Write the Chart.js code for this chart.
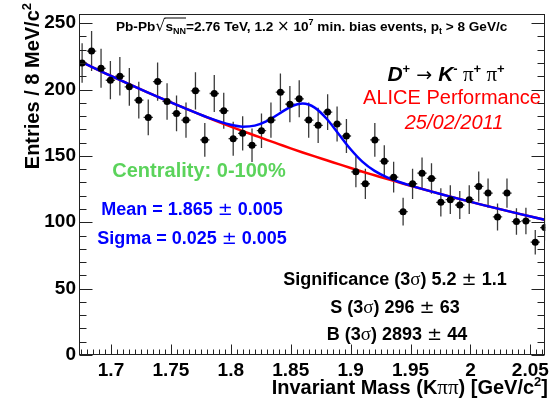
<!DOCTYPE html>
<html>
<head>
<meta charset="utf-8">
<script src="https://cdn.jsdelivr.net/npm/chart.js@4.4.1/dist/chart.umd.min.js"></script>
<style>
  html, body { margin: 0; padding: 0; background: #fff; }
  #wrap { width: 553px; height: 406px; }
</style>
</head>
<body>
<div id="wrap"><canvas id="massChart" width="553" height="406"></canvas></div>
<script>
// bin centres, GeV/c^2
var massBins = [1.6759, 1.6838, 1.6917, 1.6995, 1.7074, 1.7153, 1.7232, 1.7311, 1.7389, 1.7468,
                1.7547, 1.7626, 1.7705, 1.7783, 1.7862, 1.7941, 1.8020, 1.8099, 1.8177, 1.8256,
                1.8335, 1.8414, 1.8493, 1.8571, 1.8650, 1.8729, 1.8808, 1.8887, 1.8965, 1.9044,
                1.9123, 1.9202, 1.9281, 1.9359, 1.9438, 1.9517, 1.9596, 1.9675, 1.9753, 1.9832,
                1.9911, 1.9990, 2.0069, 2.0147, 2.0226, 2.0305, 2.0384, 2.0463, 2.0541, 2.0620];
var entries = [220, 229, 216, 207, 210, 202, 192, 179, 206, 191,
               182, 177, 199, 162, 197, 184, 163, 167, 158, 169,
               177, 198, 189, 193, 177, 173, 183, 174, 165, 138,
               129, 162, 146, 134, 108, 129, 137, 133, 115, 117,
               113, 117, 127, 122, 104, 122, 100.5, 101, 85, 96];
var entryErrors = [14.8, 15.1, 14.7, 14.4, 14.5, 14.2, 13.9, 13.4, 14.4, 13.8,
                   13.5, 13.3, 14.1, 12.7, 14.0, 13.6, 12.8, 12.9, 12.6, 13.0,
                   13.3, 14.1, 13.7, 13.9, 13.3, 13.2, 13.5, 13.2, 12.8, 11.7,
                   11.4, 12.7, 12.1, 11.6, 10.4, 11.4, 11.7, 11.5, 10.7, 10.8,
                   10.6, 10.8, 11.3, 11.0, 10.2, 11.0, 10.0, 10.0, 9.2, 9.8];
var binHalfWidth = 0.0039;

// fit curves (signal+background in blue, background in red)
var fitMass = [1.672, 1.70, 1.73, 1.76, 1.78, 1.80, 1.81, 1.82, 1.83, 1.84, 1.85, 1.86, 1.87,
               1.88, 1.89, 1.90, 1.91, 1.92, 1.93, 1.94, 1.95, 1.98, 2.01, 2.04, 2.062];
var fitTotal = [222.3, 210.2, 198.0, 186.5, 179.2, 173.4, 172.0, 172.8, 176.2, 181.6, 187.0, 189.4, 186.4,
                178.0, 166.5, 155.0, 145.5, 138.7, 134.0, 130.5, 127.6, 120.1, 113.1, 106.5, 101.9];
var fitBackground = [222.3, 210.2, 198.0, 186.5, 179.1, 172.1, 168.7, 165.4, 162.1, 158.9, 155.7, 152.6, 149.6,
                     146.7, 143.8, 140.9, 138.1, 135.4, 132.7, 130.1, 127.5, 120.1, 113.1, 106.5, 101.9];

var xTicks = [1.7, 1.75, 1.8, 1.85, 1.9, 1.95, 2, 2.05];
var yTicks = [0, 50, 100, 150, 200, 250];

var SANS = '"Liberation Sans", Arial, Helvetica, sans-serif';
var SERIF = '"Liberation Serif", "DejaVu Serif", serif';
var SYM = '"DejaVu Sans", sans-serif';

var toXY = function(xs, ys) {
	var out = [];
	for (var i = 0; i < xs.length; i++) {
		out.push({x: xs[i], y: ys[i]});
	}
	return out;
};

// draws a row of text pieces, each with its own font / offset
var drawRich = function(ctx, parts, x, y, align) {
	var total = 0;
	parts.forEach(function(p) {
		ctx.font = p.f;
		p.w = ctx.measureText(p.t).width;
		total += p.w;
	});
	var cx = x;
	if (align === 'center') cx = x - total / 2;
	if (align === 'right') cx = x - total;
	var overStart = null, overEnd = null;
	ctx.textAlign = 'left';
	ctx.textBaseline = 'alphabetic';
	parts.forEach(function(p) {
		ctx.font = p.f;
		ctx.fillStyle = p.c || '#000';
		ctx.fillText(p.t, cx, y + (p.dy || 0));
		if (p.over) {
			if (overStart === null) overStart = cx - 1;
			overEnd = cx + p.w;
		}
		cx += p.w;
	});
	if (overStart !== null) {
		ctx.strokeStyle = '#000';
		ctx.lineWidth = 1;
		ctx.beginPath();
		ctx.moveTo(overStart, y - 12.5);
		ctx.lineTo(overEnd, y - 12.5);
		ctx.stroke();
	}
	return total;
};

var rootStyle = {
	id: 'rootStyle',
	beforeDatasetsDraw: function(chart) {
		var ctx = chart.ctx, xs = chart.scales.x, ys = chart.scales.y;
		var a = chart.chartArea;
		ctx.save();
		ctx.beginPath();
		ctx.rect(a.left, a.top, a.right - a.left, a.bottom - a.top);
		ctx.clip();
		ctx.strokeStyle = '#3a3a3a';
		ctx.lineWidth = 1.3;
		for (var i = 0; i < massBins.length; i++) {
			var px = xs.getPixelForValue(massBins[i]);
			var py = ys.getPixelForValue(entries[i]);
			ctx.beginPath();
			ctx.moveTo(px, ys.getPixelForValue(entries[i] + entryErrors[i]));
			ctx.lineTo(px, ys.getPixelForValue(entries[i] - entryErrors[i]));
			ctx.moveTo(xs.getPixelForValue(massBins[i] - binHalfWidth), py);
			ctx.lineTo(xs.getPixelForValue(massBins[i] + binHalfWidth), py);
			ctx.stroke();
		}
		ctx.restore();
	},
	afterDraw: function(chart) {
		var ctx = chart.ctx, xs = chart.scales.x, ys = chart.scales.y;
		var a = chart.chartArea;
		var L = Math.round(a.left) + 0.5, R = Math.round(a.right) - 0.5;
		var T = Math.round(a.top) + 0.5, B = Math.round(a.bottom) - 0.5;
		ctx.save();
		ctx.strokeStyle = '#222';
		ctx.lineWidth = 1;
		ctx.strokeRect(L, T, R - L, B - T);

		// x ticks every 5 MeV, major every 50 MeV
		ctx.beginPath();
		for (var i = 335; i <= 412; i++) {
			var px = Math.round(xs.getPixelForValue(i / 200)) + 0.5;
			if (px <= L || px >= R) continue;
			var len = (i % 10 === 0) ? 10 : 5;
			ctx.moveTo(px, B);
			ctx.lineTo(px, B - len);
		}
		// y ticks every 10, major every 50, on both sides
		for (var v = 0; v <= 250; v += 10) {
			var py = Math.round(ys.getPixelForValue(v)) + 0.5;
			var ylen = (v % 50 === 0) ? 13 : 7;
			ctx.moveTo(L, py);
			ctx.lineTo(L + ylen, py);
			ctx.moveTo(R, py);
			ctx.lineTo(R - ylen, py);
		}
		ctx.stroke();

		// axis titles
		ctx.save();
		ctx.translate(39, 3);
		ctx.rotate(-Math.PI / 2);
		drawRich(ctx, [
			{t: 'Entries / 8 MeV/c', f: 'bold 20px ' + SANS},
			{t: '2', f: 'bold 13px ' + SANS, dy: -8}
		], 0, 0, 'right');
		ctx.restore();

		drawRich(ctx, [
			{t: 'Invariant Mass (K', f: 'bold 20px ' + SANS},
			{t: '\u03c0\u03c0', f: '21px ' + SERIF},
			{t: ') [GeV/c', f: 'bold 20px ' + SANS},
			{t: '2', f: 'bold 13px ' + SANS, dy: -8},
			{t: ']', f: 'bold 20px ' + SANS}
		], 548, 394, 'right');

		// header
		var b14 = 'bold 13.6px ' + SANS, b9 = 'bold 9px ' + SANS;
		drawRich(ctx, [
			{t: 'Pb-Pb', f: b14},
			{t: '\u221a', f: '16px ' + SYM},
			{t: 's', f: b14, over: true},
			{t: 'NN', f: b9, dy: 3, over: true},
			{t: '=2.76 TeV, 1.2 ', f: b14},
			{t: '\u00d7', f: '15px ' + SYM},
			{t: ' 10', f: b14},
			{t: '7', f: b9, dy: -6},
			{t: ' min. bias events, p', f: b14},
			{t: 't', f: b9, dy: 3},
			{t: ' > 8 GeV/c', f: b14}
		], 116, 30.5, 'left');

		// decay channel + performance label
		var bi = 'italic bold 21px ' + SANS, sup = 'bold 13px ' + SANS;
		drawRich(ctx, [
			{t: 'D', f: bi},
			{t: '+', f: sup, dy: -8},
			{t: ' \u2192 ', f: '19px ' + SYM},
			{t: 'K', f: bi},
			{t: '-', f: sup, dy: -8},
			{t: ' \u03c0', f: '21px ' + SERIF},
			{t: '+', f: sup, dy: -8},
			{t: ' \u03c0', f: '21px ' + SERIF},
			{t: '+', f: sup, dy: -8}
		], 446, 81, 'center');
		drawRich(ctx, [{t: 'ALICE Performance', f: '20px ' + SANS, c: '#ff0000'}], 452, 104, 'center');
		drawRich(ctx, [{t: '25/02/2011', f: 'italic 20px ' + SANS, c: '#ff0000'}], 454, 129, 'center');

		// fit results
		drawRich(ctx, [{t: 'Centrality: 0-100%', f: 'bold 20px ' + SANS, c: '#5bd35b'}], 199, 177, 'center');
		var b18 = 'bold 18px ' + SANS, pm = '18px ' + SYM, sg = '19px ' + SERIF;
		drawRich(ctx, [
			{t: 'Mean = 1.865 ', f: b18, c: '#0000ff'},
			{t: '\u00b1', f: pm, c: '#0000ff'},
			{t: ' 0.005', f: b18, c: '#0000ff'}
		], 192, 215, 'center');
		drawRich(ctx, [
			{t: 'Sigma = 0.025 ', f: b18, c: '#0000ff'},
			{t: '\u00b1', f: pm, c: '#0000ff'},
			{t: ' 0.005', f: b18, c: '#0000ff'}
		], 192, 244, 'center');

		drawRich(ctx, [
			{t: 'Significance (3', f: b18},
			{t: '\u03c3', f: sg},
			{t: ') 5.2 ', f: b18},
			{t: '\u00b1', f: pm},
			{t: ' 1.1', f: b18}
		], 395, 285, 'center');
		drawRich(ctx, [
			{t: 'S (3', f: b18},
			{t: '\u03c3', f: sg},
			{t: ') 296 ', f: b18},
			{t: '\u00b1', f: pm},
			{t: ' 63', f: b18}
		], 395, 313, 'center');
		drawRich(ctx, [
			{t: 'B (3', f: b18},
			{t: '\u03c3', f: sg},
			{t: ') 2893 ', f: b18},
			{t: '\u00b1', f: pm},
			{t: ' 44', f: b18}
		], 397, 340, 'center');
		ctx.restore();
	}
};

var tickFont = {family: SANS, size: 19, weight: 'bold'};

var massChart = new Chart(document.getElementById('massChart').getContext('2d'), {
	type: 'scatter',
	data: {
		datasets: [
			{
				label: 'background',
				data: toXY(fitMass, fitBackground),
				showLine: true,
				borderColor: '#ff0000',
				borderWidth: 2.5,
				pointRadius: 0,
				cubicInterpolationMode: 'monotone',
				order: 3
			},
			{
				label: 'signal + background',
				data: toXY(fitMass, fitTotal),
				showLine: true,
				borderColor: '#0000ff',
				borderWidth: 2.5,
				pointRadius: 0,
				cubicInterpolationMode: 'monotone',
				order: 2
			},
			{
				label: 'data',
				data: toXY(massBins, entries),
				pointRadius: 3.5,
				pointBackgroundColor: '#000',
				pointBorderWidth: 0,
				order: 1
			}
		]
	},
	options: {
		responsive: false,
		animation: false,
		devicePixelRatio: 1,
		layout: {padding: {top: 6, right: 5, left: 0, bottom: 0}},
		plugins: {legend: {display: false}, tooltip: {enabled: false}},
		scales: {
			x: {
				type: 'linear',
				min: 1.6733,
				max: 2.0625,
				grid: {display: false, drawTicks: false},
				border: {display: false},
				ticks: {
					font: tickFont,
					color: '#000',
					padding: 4,
					maxRotation: 0,
					autoSkip: false,
					callback: function(v) { return String(+(+v).toFixed(2)); }
				},
				afterBuildTicks: function(s) { s.ticks = xTicks.map(function(v) { return {value: v}; }); },
				afterFit: function(s) { s.height = 51; }
			},
			y: {
				type: 'linear',
				min: 0,
				max: 256.6,
				grid: {display: false, drawTicks: false},
				border: {display: false},
				ticks: {font: tickFont, color: '#000', padding: 3, autoSkip: false},
				afterBuildTicks: function(s) { s.ticks = yTicks.map(function(v) { return {value: v}; }); },
				afterFit: function(s) { s.width = 79; }
			}
		}
	},
	plugins: [rootStyle]
});
</script>
</body>
</html>
